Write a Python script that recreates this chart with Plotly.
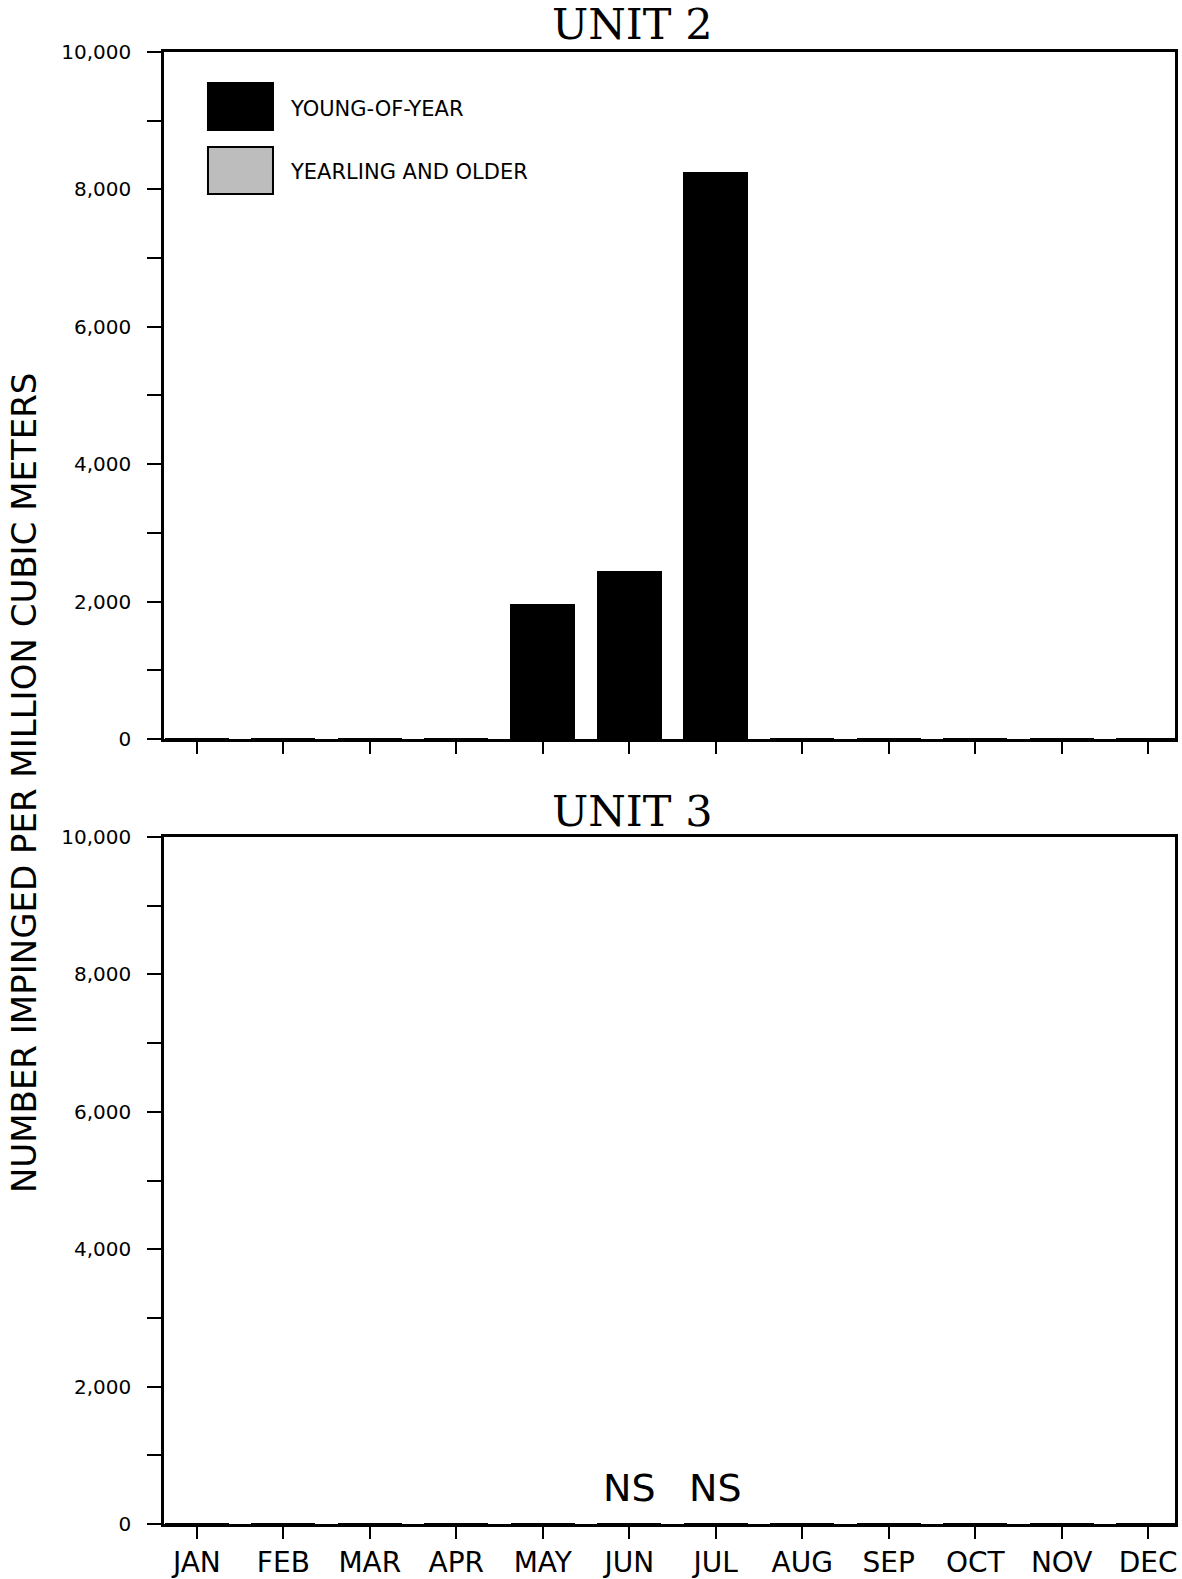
import plotly.graph_objects as go

months = ["JAN", "FEB", "MAR", "APR", "MAY", "JUN", "JUL", "AUG", "SEP", "OCT", "NOV", "DEC"]
unit2_young = [0, 0, 0, 0, 1960, 2440, 8250, 0, 0, 0, 0, 0]
unit2_yearling = [0, 0, 0, 0, 0, 0, 0, 0, 0, 0, 0, 0]
unit3_young = [0, 0, 0, 0, 0, 0, 0, 0, 0, 0, 0, 0]
unit3_yearling = [0, 0, 0, 0, 0, 0, 0, 0, 0, 0, 0, 0]
unit3_not_sampled = ["JUN", "JUL"]
panel_titles = ["UNIT 2", "UNIT 3"]
series_names = ["YOUNG-OF-YEAR", "YEARLING AND OLDER"]
y_title = "NUMBER IMPINGED PER MILLION CUBIC METERS"

SANS = "DejaVu Sans"
SERIF = "DejaVu Serif"

fig = go.Figure()

# top panel (Unit 2) on x/y, bottom (Unit 3) on x2/y2
for xa, ya, young, yearl in [("x", "y", unit2_young, unit2_yearling),
                             ("x2", "y2", unit3_young, unit3_yearling)]:
    fig.add_trace(go.Bar(x=months, y=young, name=series_names[0], xaxis=xa, yaxis=ya,
                         marker=dict(color="black", line=dict(color="black", width=1)),
                         width=0.74, showlegend=False))
    fig.add_trace(go.Bar(x=months, y=yearl, name=series_names[1], xaxis=xa, yaxis=ya,
                         marker=dict(color="white", line=dict(color="black", width=1),
                                     pattern=dict(shape=".", fgcolor="#555555", size=4, solidity=0.4)),
                         width=0.74, showlegend=False))

fig.update_layout(barmode="stack")

xrange = [-0.38, 11.31]
common_x = dict(range=xrange, showline=True, linecolor="black", linewidth=2.5, mirror=True,
                ticks="outside", ticklen=12, tickwidth=2, tickcolor="black",
                showgrid=False, zeroline=False, automargin=False,
                tickfont=dict(family=SANS, size=28, color="black"), ticklabelstandoff=0)
common_y = dict(range=[0, 10000], showline=True, linecolor="black", linewidth=2.5, mirror=True,
                ticks="outside", ticklen=14, tickwidth=2, tickcolor="black",
                dtick=2000, tickformat=",d", showgrid=False, zeroline=False, automargin=False,
                minor=dict(dtick=1000, ticks="outside", ticklen=14, tickwidth=2, tickcolor="black"),
                tickfont=dict(family=SANS, size=20, color="black"), ticklabelstandoff=12)

fig.update_layout(
    width=1182, height=1579,
    margin=dict(l=164, r=7, t=52, b=55),
    plot_bgcolor="white", paper_bgcolor="white",
    xaxis=dict(common_x, domain=[0, 1], anchor="y", showticklabels=False),
    yaxis=dict(common_y, domain=[0.5333, 1.0], anchor="x"),
    xaxis2=dict(common_x, domain=[0, 1], anchor="y2", showticklabels=True),
    yaxis2=dict(common_y, domain=[0.0, 0.4667], anchor="x2"),
)

# panel titles
for title, ty in zip(panel_titles, [1.019, 0.4844]):
    fig.add_annotation(text=title, xref="paper", yref="paper", x=0.463, y=ty,
                       showarrow=False, xanchor="center", yanchor="middle",
                       font=dict(family=SERIF, size=43, color="black"))

# y axis title
fig.add_annotation(text=y_title, xref="paper", yref="paper", x=-0.1385, y=0.504,
                   textangle=-90, showarrow=False, xanchor="center", yanchor="middle",
                   font=dict(family=SANS, size=34, color="black"))

# NS markers
for m in unit3_not_sampled:
    fig.add_annotation(text="NS", x=m, y=520, xref="x2", yref="y2", showarrow=False,
                       xanchor="center", yanchor="middle",
                       font=dict(family=SANS, size=38, color="black"))

# manual legend
legend_rows = [(0.9789, 0.947, 0.9613, "black"), (0.9355, 0.9035, 0.9185, "#bdbdbd")]
for (y1, y0, yt, col), name in zip(legend_rows, series_names):
    fig.add_shape(type="rect", xref="paper", yref="paper", x0=0.0435, x1=0.1078, y0=y0, y1=y1,
                  fillcolor=col, line=dict(color="black", width=2))
    fig.add_annotation(text=name, xref="paper", yref="paper", x=0.1226, y=yt,
                       showarrow=False, xanchor="left", yanchor="middle",
                       font=dict(family=SANS, size=21, color="black"))

fig.write_html("out.html")
